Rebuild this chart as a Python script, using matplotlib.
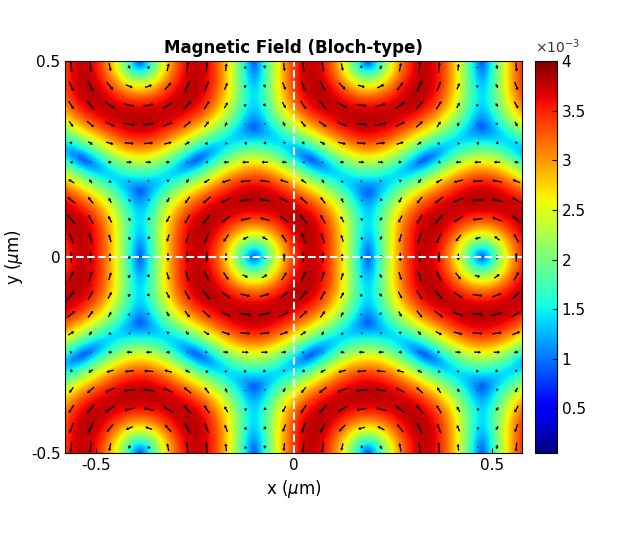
import matplotlib
matplotlib.use('Agg')
import matplotlib.pyplot as plt
import numpy as np

# Skyrmion lattice parameters
x_range = [-0.577, 0.577]
y_range = [-0.5, 0.5]
core = [-0.1, 0.0]            # centre of one skyrmion core (um)
lattice_a = 0.577             # triangular lattice constant (um)
q_angles = [90.0, 30.0, -30.0]  # wave-vector directions (deg)
b_top = 3.8e-3
b_floor = 0.9e-3
clim = [0.05e-3, 4.0e-3]
ticks_xy = [-0.5, 0, 0.5]
cbar_ticks = [0.5e-3, 1e-3, 1.5e-3, 2e-3, 2.5e-3, 3e-3, 3.5e-3, 4e-3]
cbar_labels = ['0.5', '1', '1.5', '2', '2.5', '3', '3.5', '4']


def field(X, Y):
    q = 4 * np.pi / (np.sqrt(3) * lattice_a)
    bx = np.zeros_like(X)
    by = np.zeros_like(X)
    for ang in q_angles:
        t = np.deg2rad(ang)
        qx, qy = np.cos(t), np.sin(t)
        s = np.sin(q * (qx * (X - core[0]) + qy * (Y - core[1])))
        bx += -qy * s
        by += qx * s
    return bx, by


xs = np.linspace(x_range[0], x_range[1], 400)
ys = np.linspace(y_range[0], y_range[1], 350)
X, Y = np.meshgrid(xs, ys)
bx, by = field(X, Y)
mag = np.hypot(bx, by)
B = b_floor + (b_top - b_floor) * (mag / mag.max()) ** 1.1

fig = plt.figure(figsize=(6.4, 5.33), dpi=100)
ax = fig.add_axes([0.102, 0.15, 0.714, 0.735])
im = ax.imshow(B, extent=[x_range[0], x_range[1], y_range[0], y_range[1]],
               origin='lower', cmap='jet', vmin=clim[0], vmax=clim[1],
               aspect='auto', interpolation='bilinear')

qx_ = np.linspace(x_range[0] + 0.015, x_range[1] - 0.015, 24)
qy_ = np.linspace(y_range[0] + 0.015, y_range[1] - 0.015, 21)
QX, QY = np.meshgrid(qx_, qy_)
u, v = field(QX, QY)
ax.quiver(QX, QY, u, v, color='k', scale=70, width=0.003,
          headwidth=2.5, headlength=2, headaxislength=2, pivot='middle')

ax.axvline(0, color='white', ls='--', lw=1.5)
ax.axhline(0, color='white', ls='--', lw=1.5)
ax.set_xlim(x_range)
ax.set_ylim(y_range)
ax.set_xticks(ticks_xy)
ax.set_xticklabels(['-0.5', '0', '0.5'])
ax.set_yticks(ticks_xy)
ax.set_yticklabels(['-0.5', '0', '0.5'])
ax.tick_params(direction='in', labelsize=11)
ax.set_xlabel(r'x ($\mu$m)', fontsize=12)
ax.set_ylabel(r'y ($\mu$m)', fontsize=12)
ax.set_title('Magnetic Field (Bloch-type)', fontsize=12, fontweight='bold')

cax = fig.add_axes([0.836, 0.15, 0.034, 0.735])
cb = fig.colorbar(im, cax=cax)
cb.set_ticks(cbar_ticks)
cb.set_ticklabels(cbar_labels)
cb.ax.tick_params(direction='in', labelsize=11)
fig.text(0.836, 0.9, r'$\times10^{-3}$', fontsize=10, color='#333333')

fig.savefig('out.png', dpi=100)
